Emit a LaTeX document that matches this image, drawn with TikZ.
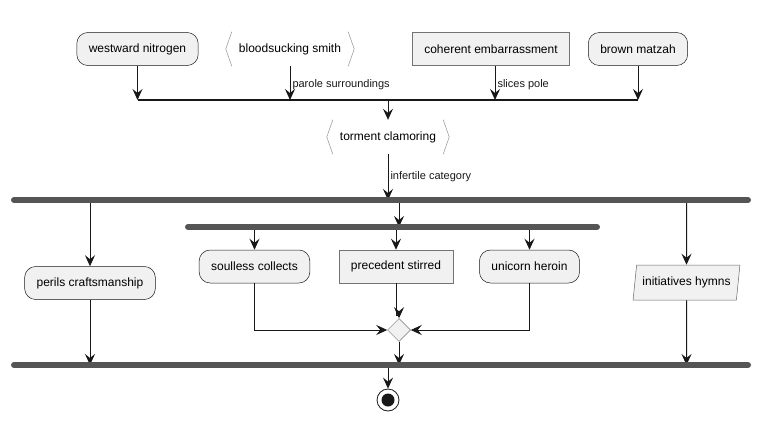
\documentclass[tikz,border=0pt]{standalone}
\usepackage{fontspec}
\setmainfont{Liberation Sans}
\usetikzlibrary{arrows.meta,shapes.geometric}

\definecolor{boxfill}{HTML}{F1F1F1}
\definecolor{boxline}{HTML}{181818}
\definecolor{barcol}{HTML}{555555}
\definecolor{brackcol}{HTML}{A0A0A0}

\tikzset{
  action/.style={draw=boxline, fill=boxfill, rounded corners=11pt, line width=0.5pt,
    minimum height=33pt, inner xsep=12pt, font=\fontsize{12}{14}\selectfont},
  plainbox/.style={action, rounded corners=0pt, draw=black!55},
  hexa/.style={minimum height=34pt, inner xsep=13pt, font=\fontsize{12}{14}\selectfont},
  slanted/.style={draw=black!60, fill=boxfill, line width=0.5pt, trapezium,
    trapezium left angle=80, trapezium right angle=100, trapezium stretches=true,
    minimum width=107pt, minimum height=35pt, inner xsep=0pt,
    font=\fontsize{12}{14}\selectfont},
  lbl/.style={right, inner sep=2pt, font=\fontsize{11}{13}\selectfont},
  arr/.style={-{Stealth[length=11pt, width=10pt, inset=4pt]}, line width=1pt, boxline},
  forkbar/.style={line width=6pt, line cap=round, barcol},
  bracket/.style={brackcol, line width=0.6pt},
}

\begin{document}
\begin{tikzpicture}[x=1pt, y=-1pt]
  \useasboundingbox (0,0) rectangle (762,420);

  % Top row
  \node[action]   (west)  at (137.5,49) {westward nitrogen};
  \node[hexa]     (blood) at (290,49)   {bloodsucking smith};
  \node[plainbox] (coher) at (491,49)   {coherent embarrassment};
  \node[action]   (brown) at (638,49)   {brown matzah};

  % Join
  \coordinate (join) at (388,100);
  \node[hexa] (torm) at (388,137) {torment clamoring};

  % Fork and inner fork
  \coordinate (fork) at (399,200);
  \coordinate (inner) at (396,227);
  \node[action]   (perils) at (90,283)    {perils craftsmanship};
  \node[action]   (soul)   at (254.5,266.5) {soulless collects};
  \node[plainbox] (prec)   at (396,266.5) {precedent stirred};
  \node[action]   (uni)    at (529.5,266.5) {unicorn heroin};
  \node[slanted]  (init)   at (686.5,282.5) {initiatives hymns};

  % Merge and end
  \node[diamond, draw=black!55, fill=boxfill, line width=0.5pt, inner sep=0pt,
        minimum width=23pt, minimum height=23pt] (merge) at (399,330) {};
  \coordinate (joinb) at (399,365);
  \node[circle, draw=boxline, line width=0.8pt, minimum size=22pt, inner sep=0pt] (stop) at (388,400) {};
  \fill[boxline] (stop.center) circle (6.5);

  % Brackets of the hexagons
  \foreach \n in {blood, torm} {
    \draw[bracket] ([xshift=6pt]\n.north west) -- (\n.west) -- ([xshift=6pt]\n.south west);
    \draw[bracket] ([xshift=-6pt]\n.north east) -- (\n.east) -- ([xshift=-6pt]\n.south east);
  }

  % Arrows into the join
  \draw[arr] (west) -- (west |- join);
  \draw[arr] (blood) -- (blood |- join) node[lbl, pos=0.55] {parole surroundings};
  \draw[arr] ([xshift=4pt]coher.south) -- ([xshift=4pt]coher.south |- join) node[lbl, pos=0.55] {slices pole};
  \draw[arr] (brown) -- (brown |- join);
  \draw[line width=1.3pt, boxline] (west |- join) -- (brown |- join);
  \draw[arr] (join) -- (torm);

  % Fork
  \draw[arr] (torm) -- (torm |- fork) node[lbl, pos=0.5] {infertile category};
  \draw[arr] (perils |- fork) -- (perils);
  \draw[arr] (fork) -- (fork |- inner);
  \draw[arr] (init |- fork) -- (init);
  \draw[arr] (soul |- inner) -- (soul);
  \draw[arr] (inner) -- (prec);
  \draw[arr] (uni |- inner) -- (uni);

  % Merge
  \draw[arr] (soul) |- (merge);
  \draw[arr] (uni) |- (merge);
  \draw[arr] (prec) |- ([yshift=3pt]merge.north) -- (merge.north);
  \draw[arr] (merge) -- (joinb);
  \draw[arr] (perils) -- (perils |- joinb);
  \draw[arr] (init) -- (init |- joinb);
  \draw[arr] (stop |- joinb) -- (stop);

  % Bars
  \draw[forkbar] (14,200) -- (748,200);
  \draw[forkbar] (188,227) -- (597,227);
  \draw[forkbar] (14,365) -- (748,365);
\end{tikzpicture}
\end{document}
